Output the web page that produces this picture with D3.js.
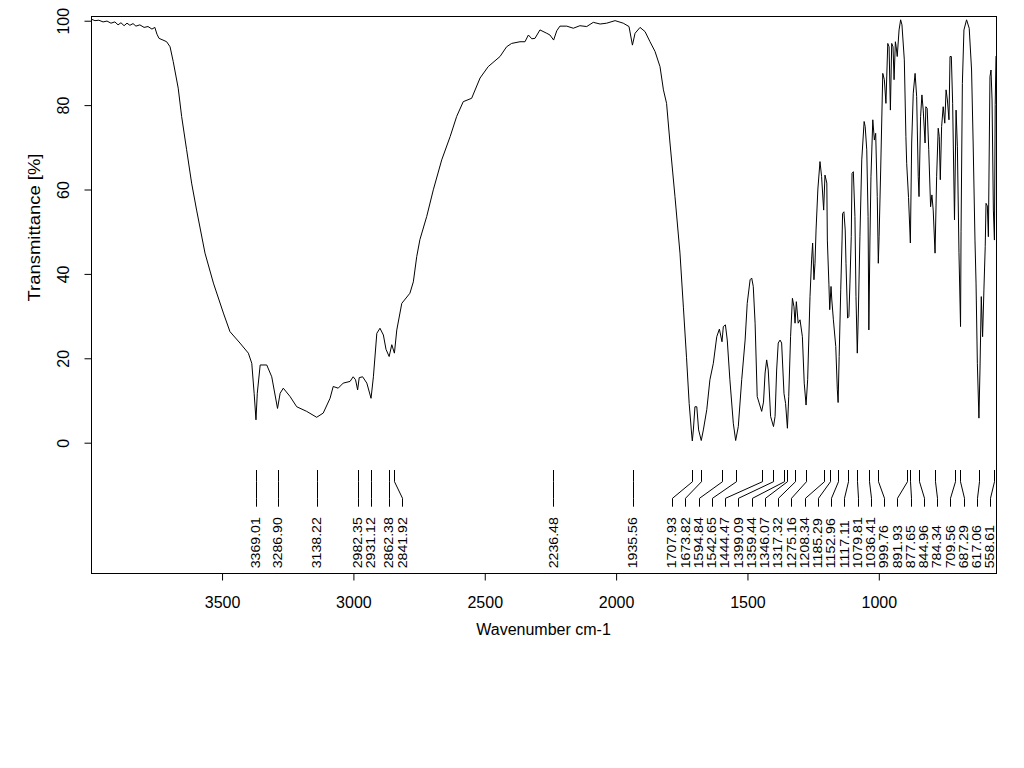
<!DOCTYPE html>
<html>
<head>
<meta charset="utf-8">
<script src="https://cdn.jsdelivr.net/npm/d3@7/dist/d3.min.js"></script>
<style>
  html, body { margin: 0; padding: 0; background: #fff; }
  svg { display: block; font-family: "Liberation Sans", Arial, sans-serif; }
</style>
</head>
<body>
<svg id="chart" width="1024" height="768"></svg>
<script>
// ---- data ----
const wavenumber = [
3994,3982,3967,3951,3936,3921,3906,3894,3883,3871,3860,3849,3837,3826,3811,3795,3780,3765,3754,3746,
3738,3723,3709,3696,3684,3665,3652,3633,3614,3595,3563,3531,3493,3468,3430,3398,3385,3376,3369,3364,
3353,3328,3309,3287,3277,3265,3239,3214,3176,3138,3113,3087,3075,3056,3037,3011,2999,2990,2982,2976,
2963,2947,2931,2922,2909,2897,2884,2874,2862,2852,2842,2833,2814,2783,2770,2757,2745,2719,2694,2662,
2630,2605,2580,2548,2516,2485,2440,2415,2396,2364,2345,2332,2319,2307,2288,2262,2250,2236,2224,2212,
2186,2161,2136,2110,2085,2059,2034,2002,1971,1949,1936,1926,1907,1888,1869,1850,1831,1818,1806,1793,
1774,1755,1742,1730,1720,1710,1708,1704,1698,1691,1684,1674,1666,1653,1641,1628,1615,1605,1595,1590,
1582,1575,1565,1552,1543,1533,1520,1507,1499,1488,1482,1476,1469,1461,1444,1437,1431,1425,1419,1410,
1399,1393,1387,1381,1374,1368,1359,1353,1346,1341,1334,1327,1321,1317,1312,1305,1298,1289,1282,1275,
1269,1260,1254,1250,1245,1241,1237,1230,1222,1216,1208,1203,1196,1194,1188,1185,1180,1177,1171,1162,
1156,1153,1149,1143,1138,1136,1131,1126,1123,1117,1112,1108,1103,1100,1095,1089,1085,1080,1076,1070,
1063,1054,1050,1044,1039,1036,1032,1028,1021,1015,1010,1004,1000,997,991,983,977,971,964,959,
954,949,944,940,935,932,928,921,915,910,901,895,892,885,878,873,867,860,854,848,
845,839,834,829,822,819,814,808,801,796,791,784,778,772,768,764,759,753,747,742,
737,731,727,722,717,710,704,699,693,687,685,680,674,664,654,645,639,632,628,623,
617,613,608,603,598,593,590,585,581,575,571,567,562,558,555,552
];
const transmittance = [
100.2,99.9,100.0,99.6,99.8,99.3,99.6,98.9,99.4,98.7,99.3,98.8,99.2,98.6,98.9,98.3,98.5,97.9,98.3,96.7,
95.7,95.3,94.9,93.7,90.2,83.9,77.2,69.3,61.4,55.0,44.8,37.7,30.6,26.2,23.5,21.1,18.7,11.6,5.3,11.6,
18.3,18.3,15.5,8.0,11.6,12.8,10.8,8.4,7.3,5.9,6.9,10.4,13.2,12.8,14.0,14.4,15.5,14.8,12.4,15.3,
15.5,14.0,10.4,15.5,25.8,27.0,25.4,22.0,20.3,23.1,21.1,26.6,32.9,35.3,38.0,44.0,48.0,53.5,59.8,66.9,
72.4,77.2,80.7,81.5,86.3,89.0,91.4,93.7,94.5,94.9,94.9,96.5,95.6,95.7,97.7,96.9,96.5,95.3,97.5,98.6,
98.6,98.1,98.7,98.5,99.5,99.1,99.3,99.9,99.3,98.5,94.1,96.9,98.3,97.3,94.9,92.6,89.0,83.5,80.3,70.9,
58.2,44.8,32.0,20.0,9.2,1.5,0.3,2.9,8.4,8.4,2.9,0.4,2.9,7.7,14.8,18.7,25.0,26.8,23.8,27.4,
27.8,24.2,14.8,4.5,0.4,3.7,14.8,24.2,32.9,38.5,38.9,36.9,28.2,10.8,7.3,9.5,16.4,19.5,17.1,6.1,
3.7,6.1,17.1,23.5,24.2,23.5,11.5,9.2,3.3,10.8,25.0,34.1,32.1,28.2,33.3,28.2,29.0,25.0,14.0,8.8,
14.8,34.5,43.2,47.2,38.5,42.4,50.3,60.0,66.5,63.0,55.0,63.3,61.4,47.9,37.3,31.4,36.9,33.7,29.0,22.7,
12.4,9.4,20.3,36.1,47.9,54.2,54.6,50.3,42.4,29.4,29.8,37.7,48.7,63.7,64.1,53.5,34.5,21.1,30.6,48.7,
66.9,76.0,74.8,69.3,53.5,26.6,47.2,62.9,76.4,71.6,73.2,58.2,42.4,48.7,64.5,87.4,85.9,80.3,94.5,93.7,
78.7,94.5,93.7,85.9,94.9,93.7,91.4,97.7,100.1,98.9,90.6,72.4,66.1,58.0,47.2,70.9,82.7,87.4,81.9,62.9,
58.2,77.2,82.3,78.7,70.9,79.5,79.1,69.3,55.8,58.6,55.0,44.8,62.9,74.4,72.4,62.2,74.8,79.5,75.6,83.5,
81.1,76.4,91.4,91.4,80.3,52.7,78.7,70.0,45.0,27.4,50.0,85.0,97.7,100.1,98.1,88.2,70.9,47.9,37.7,18.7,
5.7,17.1,34.5,25.0,36.1,46.4,56.6,56.0,48.7,86.6,88.2,81.1,55.0,47.9,80.0,91.5
];
const peakLabels = [
"3369.01","3286.90","3138.22","2982.35","2931.12","2862.38","2841.92","2236.48","1935.56",
"1707.93","1673.82","1594.84","1542.65","1444.47","1399.09","1359.44","1346.07","1317.32",
"1275.16","1208.34","1185.29","1152.96","1117.11","1079.81","1036.41","999.76","891.93",
"877.65","844.96","784.34","709.56","687.29","617.06","558.61"
];
const xTicks = [3500, 3000, 2500, 2000, 1500, 1000];
const yTicks = [0, 20, 40, 60, 80, 100];
const xTitle = "Wavenumber cm-1";
const yTitle = "Transmittance [%]";

// ---- layout ----
const plot = { left: 91, right: 996, top: 16, bottom: 573 };
const svg = d3.select("#chart");

const x = d3.scaleLinear().domain([3997, 552]).range([plot.left, plot.right]);
const y = d3.scaleLinear().domain([-31, 101]).range([plot.bottom, plot.top]);

const spectrum = wavenumber.map((w, i) => ({ w, t: transmittance[i] }));

// spectrum line
svg.append("path")
  .datum(spectrum)
  .attr("fill", "none")
  .attr("stroke", "#000")
  .attr("stroke-width", 1)
  .attr("d", d3.line().x(d => x(d.w)).y(d => y(d.t)));

// box
svg.append("rect")
  .attr("x", plot.left + 0.5).attr("y", plot.top + 0.5)
  .attr("width", plot.right - plot.left).attr("height", plot.bottom - plot.top)
  .attr("fill", "none").attr("stroke", "#000").attr("stroke-width", 1);

// x axis
const gx = svg.append("g")
  .attr("transform", `translate(0.5,${plot.bottom + 0.5})`)
  .call(d3.axisBottom(x).tickValues(xTicks).tickFormat(d3.format("d")).tickSize(7).tickPadding(10));
gx.select(".domain").remove();
gx.selectAll("line").attr("stroke", "#000");
gx.selectAll("text").attr("fill", "#000").style("font-size", "16px")
  .attr("y", 0).attr("dy", 0)
  .attr("transform", "translate(0,34)");

// y axis
const gy = svg.append("g")
  .attr("transform", `translate(${plot.left + 0.5},0.5)`)
  .call(d3.axisLeft(y).tickValues(yTicks).tickFormat(d3.format("d")).tickSize(7));
gy.select(".domain").remove();
gy.selectAll("line").attr("stroke", "#000");
gy.selectAll("text").attr("fill", "#000").style("font-size", "16px")
  .attr("x", 0).attr("y", 0).attr("dy", 0)
  .attr("text-anchor", "middle")
  .attr("transform", "translate(-23,0) rotate(-90)");

// axis titles
svg.append("text")
  .attr("x", (plot.left + plot.right) / 2).attr("y", 635)
  .attr("text-anchor", "middle").style("font-size", "16px")
  .text(xTitle);
svg.append("text")
  .attr("transform", "translate(40,227.5) rotate(-90)")
  .attr("text-anchor", "middle").style("font-size", "17px")
  .attr("textLength", 148).attr("lengthAdjust", "spacingAndGlyphs")
  .text(yTitle);

// ---- peak annotations ----
const gap = 13.25;
const rightBound = plot.right - 6;
const peaks = peakLabels.map(s => ({ s, px: x(+s) }));
// forward pass
peaks.forEach((p, i) => {
  p.lx = i === 0 ? p.px : Math.max(p.px, peaks[i - 1].lx + gap);
});
// backward pass
for (let i = peaks.length - 1; i >= 0; i--) {
  const lim = i === peaks.length - 1 ? rightBound : peaks[i + 1].lx - gap;
  peaks[i].lx = Math.min(peaks[i].lx, lim);
}

const gp = svg.append("g");
const yTop = 470, yBend1 = 481.7, yBend2 = 498.3, yBot = 506.7, yText = 568.3;
gp.selectAll("path.conn").data(peaks).join("path")
  .attr("class", "conn")
  .attr("fill", "none").attr("stroke", "#000").attr("stroke-width", 1)
  .attr("d", p => {
    const a = Math.round(p.px) + 0.5, b = Math.round(p.lx) + 0.5;
    return `M${a},${yTop}L${a},${yBend1}L${b},${yBend2}L${b},${yBot}`;
  });
gp.selectAll("text").data(peaks).join("text")
  .attr("transform", p => `translate(${p.lx},${yText}) rotate(-90) scale(1.18,1)`)
  .attr("dy", "0.36em")
  .attr("text-anchor", "start")
  .style("font-size", "12px")
  .text(p => p.s);
</script>
</body>
</html>
